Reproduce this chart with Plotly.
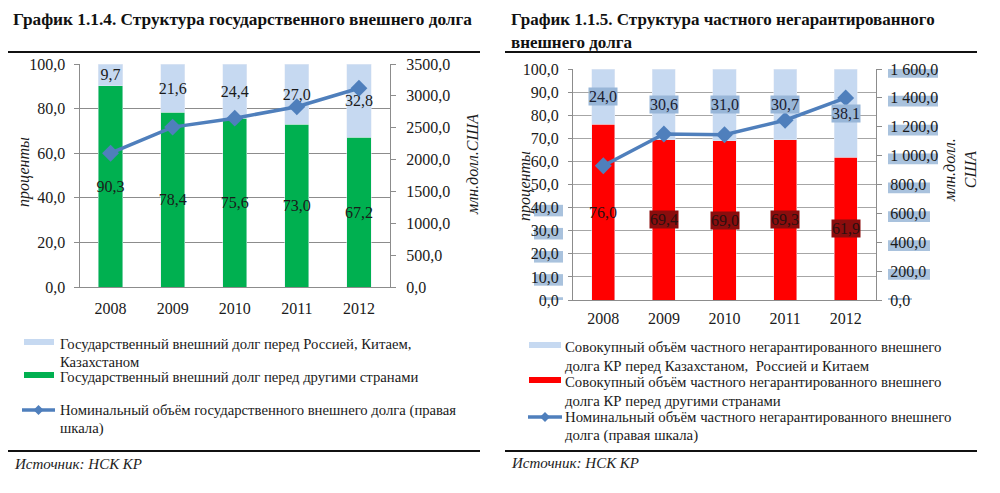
import plotly.graph_objects as go

years = ["2008", "2009", "2010", "2011", "2012"]

# Chart 1.1.4
gov_other = [90.3, 78.4, 75.6, 73.0, 67.2]
gov_rkc = [9.7, 21.6, 24.4, 27.0, 32.8]
gov_total = [2100, 2510, 2650, 2830, 3120]

# Chart 1.1.5
priv_other = [76.0, 69.4, 69.0, 69.3, 61.9]
priv_krc = [24.0, 30.6, 31.0, 30.7, 38.1]
priv_total = [930, 1150, 1145, 1245, 1400]

leg1 = [["Государственный внешний долг перед Россией, Китаем,", "Казахстаном"],
        ["Государственный внешний долг перед другими странами"],
        ["Номинальный объём государственного внешнего долга (правая", "шкала)"]]
leg2 = [["Совокупный объём частного негарантированного внешнего",
         "долга КР перед Казахстаном,  Россией и Китаем"],
        ["Совокупный объём частного негарантированного внешнего",
         "долга КР перед другими странами"],
        ["Номинальный объём частного негарантированного внешнего",
         "долга (правая шкала)"]]

SERIF = "Liberation Serif"
LINE = "#4f7fbc"
LBLUE = "#c6d9f1"
GREEN = "#00b050"
RED = "#ff0000"
AX = "#8c8c8c"
TXT = "#1a1a1a"

# the page body has an 8px margin, so the figure is drawn 8px in from the window corner
OFF = 8
W, H = 1000.0 - 2 * OFF, 493.0 - 2 * OFF

def px(x):
    return (x - OFF) / W

def py(y):
    return 1 - (y - OFF) / H

def yd(top, bottom):
    return [py(bottom), py(top)]

fig = go.Figure()

bar_text = dict(textposition="inside", insidetextanchor="middle", textangle=0,
                texttemplate="%{y:.1f}", textfont=dict(family=SERIF, size=16, color=TXT),
                constraintext="none")

fig.add_trace(go.Bar(x=years, y=gov_other, name=leg1[1][0], marker_color=GREEN,
                     width=0.39, xaxis="x", yaxis="y", **bar_text))
fig.add_trace(go.Bar(x=years, y=gov_rkc, name=leg1[0][0], marker_color=LBLUE,
                     width=0.39, xaxis="x", yaxis="y", **bar_text))
fig.add_trace(go.Scatter(x=years, y=gov_total, name=leg1[2][0], mode="lines+markers",
                         line=dict(color=LINE, width=3.5),
                         marker=dict(symbol="diamond", size=13, color=LINE),
                         xaxis="x", yaxis="y2"))

fig.add_trace(go.Bar(x=years, y=priv_other, name=leg2[1][0], marker_color=RED,
                     width=0.38, xaxis="x2", yaxis="y3"))
fig.add_trace(go.Bar(x=years, y=priv_krc, name=leg2[0][0], marker_color=LBLUE,
                     width=0.38, xaxis="x2", yaxis="y3"))
fig.add_trace(go.Scatter(x=years, y=priv_total, name=leg2[2][0], mode="lines+markers",
                         line=dict(color=LINE, width=3.5),
                         marker=dict(symbol="diamond", size=13, color=LINE),
                         xaxis="x2", yaxis="y4"))

tickfont = dict(family=SERIF, size=16, color=TXT)
ncat = len(years)

fig.update_layout(
    width=W, height=H, margin=dict(l=0, r=0, t=0, b=0, autoexpand=False),
    paper_bgcolor="white", plot_bgcolor="white", showlegend=False,
    barmode="stack", separators=", ", font=dict(family=SERIF, size=14, color=TXT),
    xaxis=dict(domain=[px(79.5), px(390)], type="category", range=[-0.5, ncat - 0.5],
               tickfont=tickfont, showline=True, linecolor=AX, ticks="outside", ticklen=7,
               tickcolor="rgba(0,0,0,0)", anchor="y"),
    yaxis=dict(domain=yd(64, 287), range=[0, 100], dtick=20, tickformat=".1f", tickfont=tickfont,
               showgrid=True, gridcolor=AX, showline=True, linecolor=AX, ticks="outside", ticklen=5,
               tickcolor=AX, anchor="x", zeroline=False, ticklabelstandoff=5, automargin=False),
    yaxis2=dict(overlaying="y", side="right", range=[0, 3500], dtick=500, tickformat=".1f",
                tickfont=tickfont, showgrid=False, showline=True, linecolor=AX, ticks="outside",
                ticklen=5, tickcolor=AX, anchor="x", zeroline=False, ticklabelstandoff=7,
                automargin=False),
    xaxis2=dict(domain=[px(573), px(876)], type="category", range=[-0.5, ncat - 0.5],
                tickfont=tickfont, showline=True, linecolor=AX, ticks="outside", ticklen=4,
                tickcolor="rgba(0,0,0,0)", anchor="y3"),
    yaxis3=dict(domain=yd(69, 300), range=[0, 100], dtick=10, tickformat=".1f", tickfont=tickfont,
                showgrid=True, gridcolor="#a6a6a6", showline=True, linecolor=AX, ticks="outside",
                ticklen=4, tickcolor=AX, anchor="x2", zeroline=False, ticklabelstandoff=6,
                automargin=False),
    yaxis4=dict(overlaying="y3", side="right", range=[0, 1600], dtick=200, tickformat=",.1f",
                tickfont=tickfont, showgrid=False, showline=True, linecolor=AX, ticks="outside",
                ticklen=5, tickcolor=AX, anchor="x2", zeroline=False, ticklabelstandoff=5,
                automargin=False),
)

# highlight bands behind some tick labels of chart 1.1.5 (as in the scanned original)
HL = "#a9c2dd"
for v in range(0, 1601, 200):
    x1 = 938 if v >= 1000 else 930
    if v == 0:
        x1 = 912
    fig.add_shape(type="rect", xref="paper", yref="y4", x0=px(888), x1=px(x1),
                  y0=v - 60, y1=v + 14, line_width=0, fillcolor=HL, layer="below")
for v in range(0, 41, 10):
    x0 = 534 if v > 0 else 541
    fig.add_shape(type="rect", xref="paper", yref="y3", x0=px(x0), x1=px(563),
                  y0=v - 3.8, y1=v + 1.2, line_width=0, fillcolor=HL, layer="below")

# data labels of chart 1.1.5 with highlighted backgrounds
for i, yr in enumerate(years):
    fig.add_annotation(x=i, y=priv_other[i] / 2, xref="x2", yref="y3",
                       text=f"{priv_other[i]:.1f}".replace(".", ","), showarrow=False,
                       font=dict(family=SERIF, size=16, color="#2a1010"),
                       bgcolor="#8b0d0d" if i > 0 else "rgba(0,0,0,0)", borderpad=0)
    fig.add_annotation(x=i, y=priv_other[i] + priv_krc[i] / 2, xref="x2", yref="y3",
                       text=f"{priv_krc[i]:.1f}".replace(".", ","), showarrow=False,
                       font=dict(family=SERIF, size=16, color="#1a2030"),
                       bgcolor="#98b6d8", borderpad=0)

# axis titles
def vtitle(text, x, y):
    fig.add_annotation(text=f"<i>{text}</i>", x=px(x), y=py(y), xref="paper", yref="paper",
                       textangle=-90, showarrow=False, xanchor="center", yanchor="middle",
                       font=dict(family=SERIF, size=16, color=TXT))

vtitle("проценты", 24, 172)
vtitle("млн.долл.США", 472, 165)
vtitle("проценты", 525, 186)
vtitle("млн.долл.<br>США", 960, 170)

def text(t, x, y, size=15, italic=False, bold=False, color=TXT):
    if italic:
        t = f"<i>{t}</i>"
    if bold:
        t = f"<b>{t}</b>"
    fig.add_annotation(text=t, x=px(x), y=py(y), xref="paper", yref="paper", xanchor="left",
                       yanchor="middle", showarrow=False, font=dict(family=SERIF, size=size, color=color))

text("График 1.1.4. Структура государственного внешнего долга", 11, 20, size=17.3, bold=True, color="#111")
text("График 1.1.5. Структура частного негарантированного", 509, 20, size=17, bold=True, color="#111")
text("внешнего долга", 509, 42, size=17, bold=True, color="#111")
text("Источник: НСК КР", 12, 464, size=15, italic=True, color="#222")
text("Источник: НСК КР", 509, 463, size=15, italic=True, color="#222")

for (x0, x1, y) in [(8, 480, 52), (505, 977, 52), (8, 480, 451), (505, 977, 451)]:
    fig.add_shape(type="line", x0=px(x0), x1=px(x1), y0=py(y), y1=py(y),
                  xref="paper", yref="paper", line=dict(color="#111", width=2))

# legends (drawn as in the original: wide colour strips, line with diamond)
def leg_rect(x0, x1, ym, color):
    fig.add_shape(type="rect", xref="paper", yref="paper", x0=px(x0), x1=px(x1),
                  y0=py(ym + 3), y1=py(ym - 3), line_width=0, fillcolor=color)

def leg_line(x0, x1, ym):
    fig.add_shape(type="line", xref="paper", yref="paper", x0=px(x0), x1=px(x1),
                  y0=py(ym), y1=py(ym), line=dict(color=LINE, width=3.5))
    xc = (x0 + x1) / 2
    d = 5
    fig.add_shape(type="path", xref="paper", yref="paper",
                  path=f"M {px(xc - d)},{py(ym)} L {px(xc)},{py(ym - d)} L {px(xc + d)},{py(ym)} "
                       f"L {px(xc)},{py(ym + d)} Z",
                  fillcolor=LINE, line_width=0)

def leg_text(lines, x, y0, step, size):
    for k, ln in enumerate(lines):
        text(ln, x, y0 + k * step, size=size)

leg_rect(24, 54, 342, LBLUE)
leg_text(leg1[0], 58, 344, 18, 14.7)
leg_rect(24, 54, 375, GREEN)
leg_text(leg1[1], 58, 377, 18, 14.7)
leg_line(22, 55, 410)
leg_text(leg1[2], 58, 410, 18, 14.7)

leg_rect(529, 561, 345, LBLUE)
leg_text(leg2[0], 563, 347, 18.5, 14.8)
leg_rect(529, 561, 380, RED)
leg_text(leg2[1], 563, 382, 18.5, 14.8)
leg_line(528, 562, 417)
leg_text(leg2[2], 563, 417, 18.5, 14.8)

fig.write_html("out.html")
